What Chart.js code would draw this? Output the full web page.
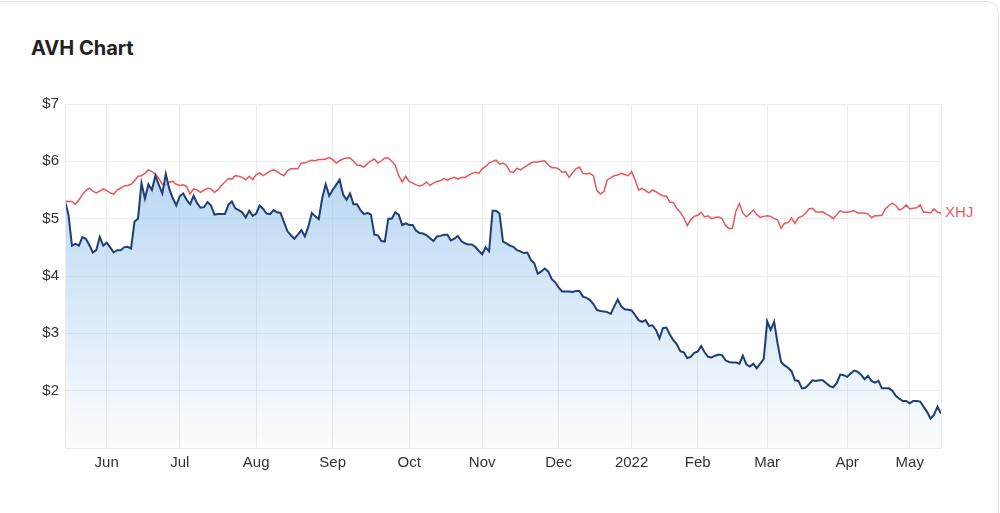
<!DOCTYPE html>
<html>
<head>
<meta charset="utf-8">
<title>AVH Chart</title>
<script src="https://cdn.jsdelivr.net/npm/chart.js@4.4.1/dist/chart.umd.min.js"></script>
<style>
  html, body { margin: 0; padding: 0; background: #fff; overflow: hidden; }
  body { width: 1000px; height: 513px; position: relative; }
  .card {
    position: absolute; left: -20px; top: 1px; right: 1px; bottom: -20px;
    border: 1px solid #e8e8e8; border-radius: 12px;
  }
  .title {
    position: absolute; left: 31px; top: 37px;
    font: 700 20px/22px Inter, "Open Sans", sans-serif; color: #222;
  }
  canvas { position: absolute; left: 0; top: 0; }
</style>
</head>
<body>
<div class="card"></div>
<div class="title">AVH Chart</div>
<canvas id="chart" width="1000" height="513"></canvas>
<script>
// ── Data (one value per ASX trading day, 14 May 2021 – 13 May 2022) ──
const avhPrices = [
  5.31, 5.07, 4.53, 4.56, 4.53, 4.68, 4.65, 4.54, 4.41, 4.45, 4.68, 4.53, 4.58, 4.50, 4.41, 4.45, 4.45, 4.50,
  4.51, 4.48, 4.95, 5.00, 5.62, 5.35, 5.60, 5.50, 5.75, 5.59, 5.44, 5.78, 5.52, 5.36, 5.23, 5.39, 5.44, 5.33,
  5.25, 5.40, 5.27, 5.19, 5.20, 5.29, 5.23, 5.07, 5.08, 5.08, 5.08, 5.24, 5.30, 5.18, 5.15, 5.11, 5.02, 5.14,
  5.05, 5.09, 5.23, 5.17, 5.09, 5.08, 5.15, 5.11, 5.10, 4.94, 4.78, 4.71, 4.65, 4.72, 4.80, 4.69, 4.86, 5.10,
  5.04, 4.99, 5.36, 5.60, 5.40, 5.50, 5.59, 5.68, 5.42, 5.33, 5.44, 5.25, 5.25, 5.15, 5.08, 5.10, 5.07, 4.72,
  4.71, 4.61, 4.60, 5.00, 5.00, 5.11, 5.07, 4.89, 4.92, 4.89, 4.89, 4.79, 4.75, 4.74, 4.71, 4.66, 4.61, 4.69,
  4.70, 4.72, 4.72, 4.62, 4.65, 4.70, 4.61, 4.57, 4.55, 4.55, 4.51, 4.44, 4.38, 4.50, 4.43, 5.14, 5.14, 5.09,
  4.60, 4.57, 4.53, 4.51, 4.45, 4.43, 4.40, 4.41, 4.28, 4.22, 4.04, 4.08, 4.13, 4.08, 3.95, 3.89, 3.80, 3.73,
  3.73, 3.73, 3.72, 3.74, 3.74, 3.64, 3.62, 3.58, 3.51, 3.41, 3.39, 3.38, 3.37, 3.34, 3.47, 3.59, 3.47, 3.42,
  3.41, 3.40, 3.32, 3.23, 3.20, 3.23, 3.13, 3.14, 3.06, 2.91, 3.09, 3.10, 2.98, 2.88, 2.81, 2.69, 2.67, 2.57,
  2.59, 2.66, 2.68, 2.78, 2.67, 2.59, 2.58, 2.61, 2.63, 2.62, 2.53, 2.50, 2.49, 2.49, 2.47, 2.61, 2.46, 2.42,
  2.47, 2.39, 2.47, 2.55, 3.21, 3.06, 3.20, 2.82, 2.50, 2.44, 2.40, 2.34, 2.18, 2.17, 2.04, 2.05, 2.11, 2.18,
  2.17, 2.18, 2.18, 2.13, 2.08, 2.06, 2.13, 2.28, 2.27, 2.24, 2.30, 2.35, 2.33, 2.28, 2.20, 2.26, 2.17, 2.14,
  2.17, 2.04, 2.04, 2.04, 2.00, 1.91, 1.86, 1.82, 1.82, 1.78, 1.82, 1.82, 1.81, 1.72, 1.63, 1.51, 1.58, 1.72,
  1.60
];

const xhjPrices = [
  5.31, 5.30, 5.30, 5.25, 5.33, 5.42, 5.49, 5.53, 5.48, 5.45, 5.48, 5.52, 5.49, 5.45, 5.43, 5.50, 5.53, 5.57,
  5.58, 5.60, 5.66, 5.74, 5.75, 5.79, 5.85, 5.82, 5.78, 5.70, 5.60, 5.59, 5.64, 5.65, 5.60, 5.58, 5.59, 5.56,
  5.43, 5.52, 5.50, 5.46, 5.50, 5.53, 5.52, 5.46, 5.50, 5.58, 5.64, 5.70, 5.69, 5.75, 5.74, 5.72, 5.68, 5.74,
  5.68, 5.77, 5.80, 5.75, 5.79, 5.83, 5.85, 5.82, 5.78, 5.75, 5.84, 5.87, 5.87, 5.87, 5.97, 5.97, 6.00, 6.02,
  6.01, 6.03, 6.03, 6.04, 6.07, 6.03, 5.97, 6.01, 6.04, 6.06, 6.06, 6.00, 5.93, 5.93, 5.90, 5.96, 6.01, 6.04,
  5.97, 6.01, 6.06, 6.06, 6.00, 5.93, 5.75, 5.64, 5.74, 5.65, 5.62, 5.59, 5.57, 5.59, 5.64, 5.58, 5.62, 5.65,
  5.66, 5.70, 5.67, 5.70, 5.72, 5.69, 5.72, 5.72, 5.75, 5.79, 5.81, 5.79, 5.87, 5.91, 5.97, 6.00, 6.02, 5.95,
  5.97, 5.93, 5.82, 5.81, 5.88, 5.85, 5.89, 5.93, 5.97, 5.99, 5.99, 6.00, 6.01, 5.94, 5.89, 5.89, 5.87, 5.81,
  5.82, 5.72, 5.80, 5.87, 5.90, 5.79, 5.78, 5.79, 5.75, 5.49, 5.43, 5.47, 5.68, 5.71, 5.75, 5.76, 5.79, 5.77,
  5.75, 5.82, 5.68, 5.50, 5.53, 5.49, 5.45, 5.50, 5.47, 5.43, 5.40, 5.39, 5.29, 5.28, 5.18, 5.11, 5.02, 4.88,
  4.98, 5.04, 5.06, 5.11, 5.03, 5.05, 5.00, 5.02, 5.03, 5.00, 4.88, 4.83, 4.83, 5.13, 5.26, 5.10, 5.03, 5.09,
  5.15, 5.07, 5.02, 5.04, 5.05, 5.04, 5.00, 4.98, 4.83, 4.92, 4.93, 5.01, 4.92, 5.02, 5.04, 5.09, 5.17, 5.18,
  5.12, 5.11, 5.12, 5.08, 5.05, 5.00, 5.07, 5.14, 5.11, 5.11, 5.12, 5.14, 5.10, 5.10, 5.10, 5.08, 5.02, 5.05,
  5.05, 5.06, 5.17, 5.23, 5.27, 5.23, 5.15, 5.18, 5.24, 5.17, 5.18, 5.19, 5.24, 5.11, 5.11, 5.10, 5.17, 5.11,
  5.10
];

// trading-day index of the first session of each month
const monthTickIndex  = [12, 33, 55, 77, 99, 120, 142, 163, 182, 202, 225, 243];
const monthTickLabels = ['Jun', 'Jul', 'Aug', 'Sep', 'Oct', 'Nov', 'Dec', '2022', 'Feb', 'Mar', 'Apr', 'May'];

const priceTicks = [1, 2, 3, 4, 5, 6, 7];

// ── Helpers ──────────────────────────────────────────────────
const toPoints = (arr) => arr.map((y, x) => ({ x, y }));
const AXIS_FONT = { family: "'Liberation Sans', Arial, sans-serif", size: 15 };
const GRID = '#ececec';
const BLUE = '#1f3e74';
const RED  = '#e8565a';

// plot frame + end label
const framePlugin = {
  id: 'frame',
  afterDatasetsDraw(chart) {
    const { ctx, chartArea: a } = chart;
    ctx.save();
    ctx.strokeStyle = GRID;
    ctx.lineWidth = 1;
    ctx.strokeRect(Math.round(a.left) + 0.5, Math.round(a.top) + 0.5,
                   Math.round(a.right - a.left), Math.round(a.bottom - a.top));

    const meta = chart.getDatasetMeta(1);
    const last = meta.data[meta.data.length - 1];
    ctx.fillStyle = RED;
    ctx.font = "15px 'Liberation Sans', Arial, sans-serif";
    ctx.textBaseline = 'middle';
    ctx.textAlign = 'left';
    ctx.fillText('XHJ', last.x + 4, last.y);
    ctx.restore();
  },
};

new Chart(document.getElementById('chart'), {
  type: 'line',
  data: {
    datasets: [
      {
        label: 'AVH',
        data: toPoints(avhPrices),
        borderColor: BLUE,
        borderWidth: 2,
        pointRadius: 0,
        tension: 0,
        fill: 'start',
        backgroundColor: (c) => {
          const a = c.chart.chartArea;
          if (!a) return 'rgba(140,190,235,0.4)';
          const g = c.chart.ctx.createLinearGradient(0, a.top, 0, a.bottom);
          g.addColorStop(0, 'rgba(140,190,235,0.75)');
          g.addColorStop(1, 'rgba(140,190,235,0.03)');
          return g;
        },
      },
      {
        label: 'XHJ',
        data: toPoints(xhjPrices),
        borderColor: RED,
        borderWidth: 1.5,
        pointRadius: 0,
        tension: 0,
        fill: false,
      },
    ],
  },
  plugins: [framePlugin],
  options: {
    responsive: false,
    animation: false,
    layout: { padding: { top: 104, right: 59, left: 0, bottom: 0 } },
    plugins: { legend: { display: false }, tooltip: { enabled: false } },
    scales: {
      x: {
        type: 'linear',
        min: 0,
        max: avhPrices.length - 1,
        afterFit: (s) => { s.height = 65; },
        afterBuildTicks: (s) => { s.ticks = monthTickIndex.map((v) => ({ value: v })); },
        grid: { color: GRID, drawTicks: false },
        border: { display: false },
        ticks: {
          autoSkip: false,
          maxRotation: 0,
          padding: 6,
          color: '#333',
          font: AXIS_FONT,
          callback: (v) => monthTickLabels[monthTickIndex.indexOf(v)],
        },
      },
      y: {
        min: 1,
        max: 7,
        afterFit: (s) => { s.width = 65; },
        afterBuildTicks: (s) => { s.ticks = priceTicks.map((v) => ({ value: v })); },
        grid: { color: GRID, drawTicks: false },
        border: { display: false },
        ticks: {
          padding: 6,
          color: '#333',
          font: AXIS_FONT,
          callback: (v) => (v === 1 ? '' : '$' + v),
        },
      },
    },
  },
});
</script>
</body>
</html>
